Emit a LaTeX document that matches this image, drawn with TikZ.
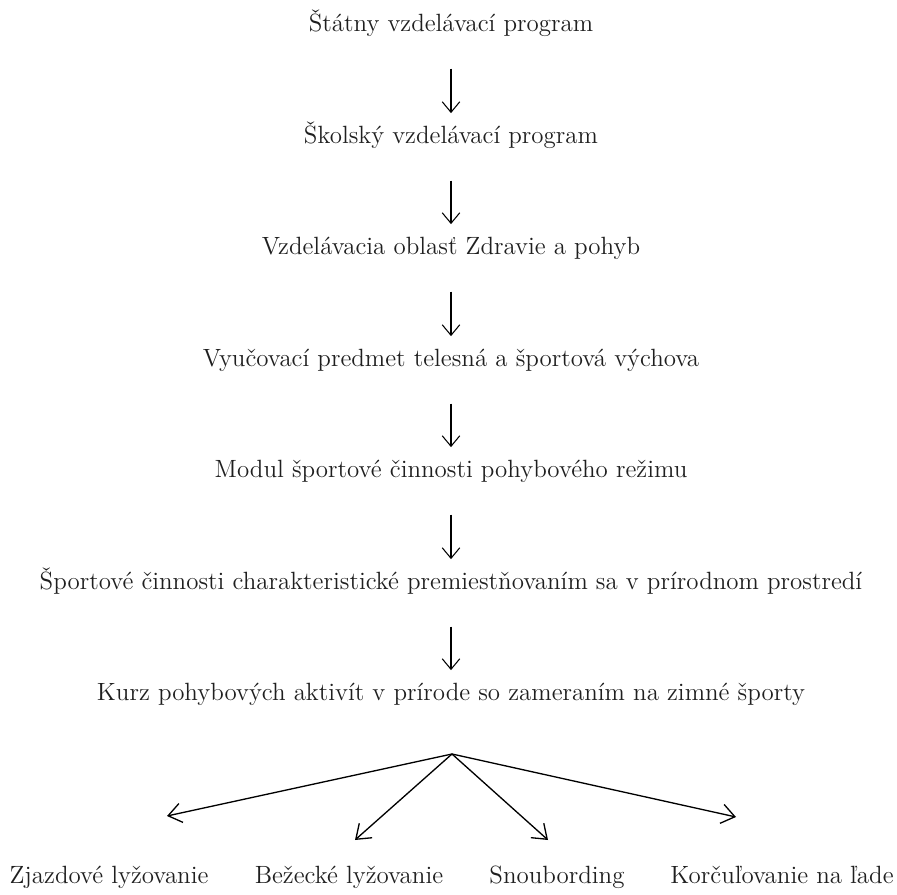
\documentclass[tikz,border=0pt]{standalone}
\usepackage{tikz}
\usetikzlibrary{arrows.meta,positioning}

\begin{document}
\begin{tikzpicture}[x=0.02cm,y=-0.02cm]
        \tikzset{lvl/.style={inner sep=0pt,font=\fontsize{14.2}{16}\selectfont,text height=1.6ex,text depth=0.5ex,text=black!88},
                 down/.style={line width=0.6pt,-{Straight Barb[length=6pt,width=10pt]},shorten <=19pt,shorten >=10pt},
                 branch/.style={line width=0.75pt,-{Straight Barb[length=7.5pt,width=11pt]}}}
        \useasboundingbox (0,0) rectangle (897,895);
        
        % hlavny retazec
        \node[lvl] (svp) at (451,27) {Štátny vzdelávací program};
        \node[lvl] (skvp) at (451,139) {Školský vzdelávací program};
        \node[lvl] (obl) at (451,250) {Vzdelávacia oblasť Zdravie a pohyb};
        \node[lvl] (tsv) at (451,362) {Vyučovací predmet telesná a športová výchova};
        \node[lvl] (mod) at (451,473) {Modul športové činnosti pohybového režimu};
        \node[lvl] (cin) at (451,585) {Športové činnosti charakteristické premiestňovaním sa v prírodnom prostredí};
        \node[lvl] (kurz) at (451,696) {Kurz pohybových aktivít v prírode so zameraním na zimné športy};
        
        \draw[down] (svp) -- (skvp);
        \draw[down] (skvp) -- (obl);
        \draw[down] (obl) -- (tsv);
        \draw[down] (tsv) -- (mod);
        \draw[down] (mod) -- (cin);
        \draw[down] (cin) -- (kurz);
        
        % rozvetvenie
        \coordinate (split) at (452,754);
        \coordinate (t1) at (167,816);
        \coordinate (t2) at (355,840);
        \coordinate (t3) at (548,840);
        \coordinate (t4) at (736,817);
        \draw[branch] (split) -- (t1);
        \draw[branch] (split) -- (t2);
        \draw[branch] (split) -- (t3);
        \draw[branch] (split) -- (t4);
        
        \node[lvl] (zjazd) at (109,879) {Zjazdové lyžovanie};
        \node[lvl] (bez) at (349,879) {Bežecké lyžovanie};
        \node[lvl] (snb) at (557,879) {Snoubording};
        \node[lvl] (kor) at (782,879) {Korčuľovanie na ľade};
\end{tikzpicture}
\end{document}
